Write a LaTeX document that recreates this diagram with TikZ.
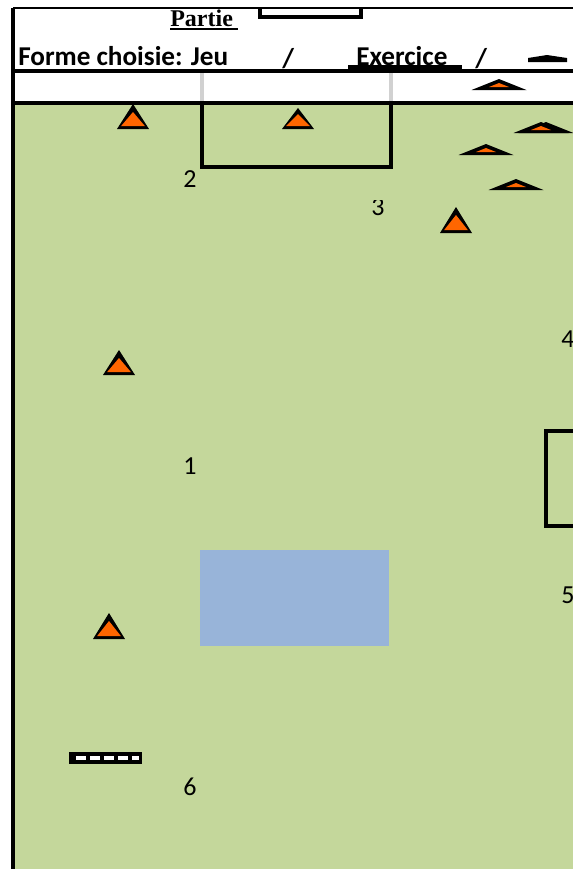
\documentclass[tikz,border=0pt]{standalone}
\usepackage{fontspec}
\setmainfont{Carlito}
\newfontfamily\titlefont{Liberation Serif}
\definecolor{pitch}{HTML}{C4D79B}
\definecolor{zone}{HTML}{98B4D9}
\definecolor{cone}{HTML}{FF6600}
\tikzset{
	heavy/.style={line width=3.2pt},
	topline/.style={line width=2.2pt},
	boxline/.style={line width=3pt},
	tickline/.style={line width=2.8pt,black!18},
	heading/.style={font=\bfseries\fontsize{20.4}{22}\selectfont,inner sep=0pt,anchor=base west},
	number/.style={font=\fontsize{19.5}{22}\selectfont,inner sep=0pt},
}
% cone: base centre x, base y, half width, height, inner half width, inner base, inner top
\newcommand{\conemark}[7]{
	\fill (#1-#3,#2) -- (#1,#2-#4) -- (#1+#3,#2) -- cycle;
	\fill[cone] (#1-#5,#2-#6) -- (#1,#2-#7) -- (#1+#5,#2-#6) -- cycle;
}
\begin{document}
\begin{tikzpicture}[x=0.75pt,y=-0.75pt]
		\useasboundingbox (0,0) rectangle (573,869);
		\clip (0,0) rectangle (573,869);
		% pitch and central zone
		\fill[pitch] (15,103) rectangle (573,869);
		\fill[zone] (200,550) rectangle (389,646);
		% headings
		\node[heading,font=\titlefont\bfseries\fontsize{18}{20}\selectfont] (partie) at (170,26) {Partie};
		\node[heading] (forme) at (18,65) {Forme choisie: Jeu};
		\node[heading] (exercice) at (356,65) {Exercice};
		\node[heading] (slashA) at (282,67) {/};
		\node[heading] (slashB) at (475,67) {/};
		\fill (170,28) rectangle (238,30);
		\fill (348,65) rectangle (462,69);
		% frame
		\draw[heavy] (13,8) -- (13,869);
		\draw[topline] (13,8) -- (573,8);
		\draw[heavy] (13,71) -- (573,71);
		\draw[heavy] (13,103) -- (573,103);
		% goals
		\draw[tickline] (202,73) -- (202,101);
		\draw[tickline] (391,73) -- (391,101);
		\draw[boxline] (202,103) -- (202,167) -- (391,167) -- (391,103);
		\draw[boxline] (260,8) -- (260,17) -- (361,17) -- (361,8);
		\draw[boxline] (575,431) -- (546,431) -- (546,526) -- (575,526);
		% upright cones
		\foreach \cx/\cy/\ch/\ct in {133/129/25/17,298/129/21/15,456/233/26/18,119/375/25/17,109/639/26/18}
			\conemark{\cx}{\cy}{16}{\ch}{12}{2.8}{\ct};
		% flat cones
		\foreach \cx/\cy in {499/90,546/133,541/133,486/155,516/190}
			\conemark{\cx}{\cy}{27.5}{11}{10}{3}{7};
		\fill (528,62) -- (528,58) -- (547,55) -- (567,58) -- (567,62) -- cycle;
		% ladder
		\fill (69,752) rectangle (142,764);
		\foreach \sx in {76,90,104,118}
			\fill[white] (\sx,756) rectangle (\sx+10,760);
		\fill[white] (132,756) rectangle (139,760);
		% numbers
		\node[number] (num1) at (190,466) {1};
		\node[number] (num2) at (190,179) {2};
		\begin{scope}
			\clip (360,200) rectangle (400,230);
			\node[number] (num3) at (378,207) {3};
		\end{scope}
		\node[number] (num4) at (568,339) {4};
		\node[number] (num5) at (568,595) {5};
		\node[number] (num6) at (190,787) {6};
	\end{tikzpicture}
\end{document}
